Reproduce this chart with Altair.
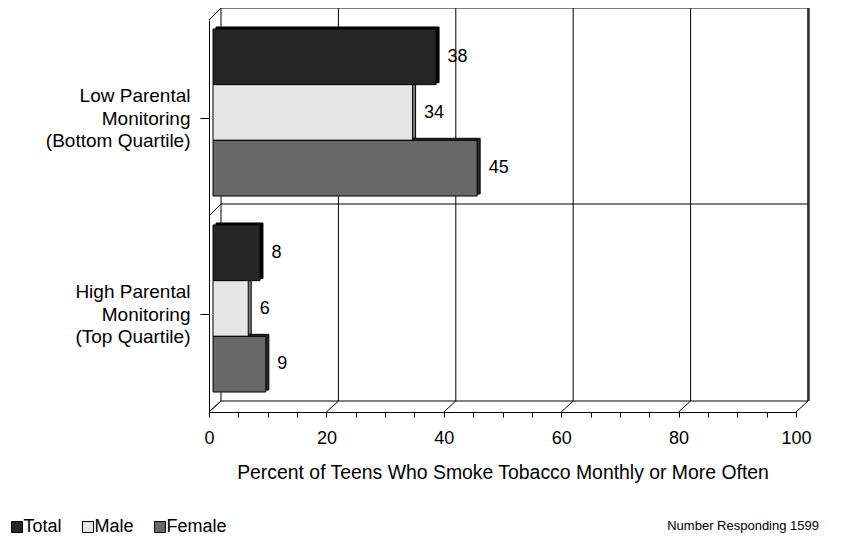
import altair as alt
import pandas as pd

# ---------------- data ----------------
categories = ["Low Parental\nMonitoring\n(Bottom Quartile)",
              "High Parental\nMonitoring\n(Top Quartile)"]
series = ["Total", "Male", "Female"]
total = [38, 8]
male = [34, 6]
female = [45, 9]
series_colors = ["#262626", "#e6e6e6", "#686868"]
shade_colors = ["#000000", "#7a7a7a", "#2a2a2a"]
x_ticks = list(range(0, 101, 5))
grid_values = [0, 20, 40, 60, 80, 100]
x_domain = [0, 100]
x_title = "Percent of Teens Who Smoke Tobacco Monthly or More Often"
note = "Number Responding 1599"

rows = []
for i, c in enumerate(categories):
    for s, vals in zip(series, [total, male, female]):
        rows.append({"category": c, "series": s, "value": vals[i]})
df = pd.DataFrame(rows)
grid_df = pd.DataFrame({"value": grid_values})
span_df = pd.DataFrame({"value": [x_domain[0]], "end": [x_domain[1]]})
note_df = pd.DataFrame({"t": [note]})

# ---------------- layout / style ----------------
W, H = 587, 392
D = 12          # depth of the 3-D box
BACK_FLOOR = H - 11
FONT = "Liberation Sans"
xscale = alt.Scale(domain=x_domain, nice=False, zero=True)
bar_y_scale = alt.Scale(domain=categories, range=[-5.5, H - 5.5], paddingInner=0, paddingOuter=0)
shade_y_scale = alt.Scale(domain=categories, range=[-7.5, H - 7.5], paddingInner=0, paddingOuter=0)
offset_scale = alt.Scale(domain=series, paddingInner=0, paddingOuter=0.26)

X_AXIS = alt.Axis(values=x_ticks,
                  labelExpr="datum.value % 20 == 0 ? datum.label : ''",
                  tickSize=5, tickColor="black", tickWidth=1,
                  domainColor="black", domainWidth=1,
                  labelFontSize=18, labelFont=FONT, labelColor="black",
                  labelPadding=12, labelFlush=False, labelOverlap=False,
                  title=x_title, titleFontSize=19.4, titleFont=FONT,
                  titleFontWeight="normal", titleColor="black",
                  titlePadding=16, grid=False)


def xenc(field="value"):
    return alt.X(f"{field}:Q", scale=xscale, axis=X_AXIS, title=x_title)


# axis-carrying invisible layer
axis_layer = alt.Chart(df).mark_point(opacity=0).encode(
    x=xenc(),
    y=alt.Y("category:N",
            scale=alt.Scale(domain=categories, paddingInner=0, paddingOuter=0),
            axis=alt.Axis(labelExpr="split(datum.label, '\\n')",
                          tickSize=9, tickColor="black", domainColor="black",
                          labelPadding=10, labelFontSize=19, labelLineHeight=22.5,
                          labelOffset=-22.5,
                          labelFont=FONT, labelColor="black", labelLimit=0,
                          title=None, grid=False)),
)

# back wall: vertical grid lines
back_grid = alt.Chart(grid_df).mark_rule(color="black", strokeWidth=1, xOffset=D).encode(
    x=xenc(), y=alt.value(-D), y2=alt.value(BACK_FLOOR),
)
# back wall right edge (thicker)
back_right = alt.Chart(span_df).mark_rule(color="#333333", strokeWidth=2.5, xOffset=D + 0.5).encode(
    x=xenc("end"), y=alt.value(-D), y2=alt.value(BACK_FLOOR),
)


def back_hline(ypix):
    return alt.Chart(span_df).mark_rule(color="black", strokeWidth=1, xOffset=D, x2Offset=D).encode(
        x=xenc(), x2=alt.X2("end"), y=alt.value(ypix))


def left_diag(ypix, ypix2):
    return alt.Chart(span_df).mark_rule(color="black", strokeWidth=1).encode(
        x=alt.value(0), x2=alt.value(D), y=alt.value(ypix), y2=alt.value(ypix2))


floor_diag = alt.Chart(grid_df).mark_rule(color="black", strokeWidth=1, x2Offset=D).encode(
    x=xenc(), x2=alt.X2("value"),
    y=alt.value(H), y2=alt.value(BACK_FLOOR),
)


# 3-D side / top faces of bars, one layer per series
def shade_layer(s, col):
    return alt.Chart(df).transform_filter(alt.datum.series == s).mark_bar(
        stroke="black", strokeWidth=1, xOffset=7, x2Offset=7, color=col, opacity=1).encode(
        x=xenc(),
        y=alt.Y("category:N", scale=shade_y_scale, axis=None),
        yOffset=alt.YOffset("series:N", scale=offset_scale),
    )


shades = [shade_layer(s, c) for s, c in zip(series, shade_colors)]

# bar fronts
bars = alt.Chart(df).mark_bar(stroke="black", strokeWidth=1, xOffset=4, x2Offset=4, opacity=1).encode(
    x=xenc(),
    y=alt.Y("category:N", scale=bar_y_scale, axis=None),
    yOffset=alt.YOffset("series:N", scale=offset_scale),
    color=alt.Color("series:N", scale=alt.Scale(domain=series, range=series_colors),
                    legend=alt.Legend(orient="none", legendX=-201, legendY=498,
                                      direction="horizontal", title=None,
                                      symbolType="square", symbolSize=121,
                                      symbolStrokeColor="black", symbolStrokeWidth=1,
                                      symbolOpacity=1,
                                      labelFontSize=18, labelFont=FONT, labelColor="black",
                                      labelOffset={"expr": "-2.5"}, columnPadding=17, padding=0)),
)

labels = alt.Chart(df).mark_text(align="left", baseline="middle", dx=15.5, dy=0,
                                 fontSize=18, font=FONT, color="black").encode(
    x=xenc(),
    y=alt.Y("category:N", scale=bar_y_scale, axis=None),
    yOffset=alt.YOffset("series:N", scale=offset_scale),
    text=alt.Text("value:Q"),
)

note_layer = alt.Chart(note_df).mark_text(align="right", baseline="middle", fontSize=13,
                                          font=FONT, color="black").encode(
    x=alt.value(610), y=alt.value(506), text="t:N")

chart = alt.layer(
    back_grid, back_hline(-D), back_hline(H / 2 - D), back_hline(BACK_FLOOR), back_right,
    floor_diag, left_diag(0, -D), left_diag(H / 2, H / 2 - D), left_diag(H, BACK_FLOOR),
    axis_layer, *shades, bars, labels, note_layer,
).resolve_scale(y="independent").properties(
    width=W, height=H,
    autosize=alt.AutoSizeParams(type="none"),
    padding={"left": 201, "top": 12, "right": 45, "bottom": 126},
).configure_view(stroke=None)

chart.save("out.html", embed_options={"renderer": "svg", "actions": False})
